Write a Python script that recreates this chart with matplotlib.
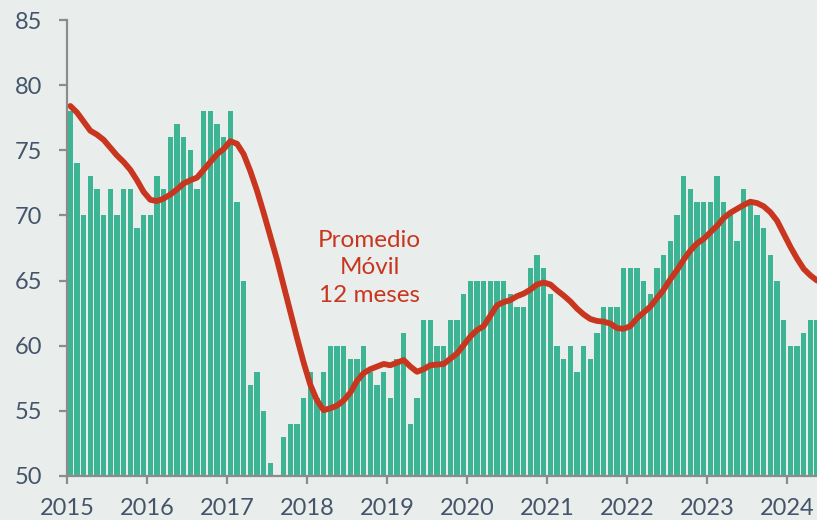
#!/usr/bin/env python3
#coding:utf-8

"""
  Indicador mensual 2015-2024 con promedio movil de 12 meses
"""

import numpy as np
import matplotlib
matplotlib.use('Agg')
import matplotlib.pyplot as plt

#----------------------------------------------------------------------
# datos (ene-2015 .. may-2024)
anios = ['2015', '2016', '2017', '2018', '2019', '2020', '2021', '2022', '2023', '2024']

indice = [
	78, 74, 70, 73, 72, 70, 72, 70, 72, 72, 69, 70,   # 2015
	70, 73, 72, 76, 77, 76, 75, 72, 78, 78, 77, 76,   # 2016
	78, 71, 65, 57, 58, 55, 51, 50, 53, 54, 54, 56,   # 2017
	58, 56, 58, 60, 60, 60, 59, 59, 60, 58, 57, 58,   # 2018
	56, 59, 61, 54, 56, 62, 62, 60, 60, 62, 62, 64,   # 2019
	65, 65, 65, 65, 65, 65, 64, 63, 63, 66, 67, 66,   # 2020
	64, 60, 59, 60, 58, 60, 59, 61, 63, 63, 63, 66,   # 2021
	66, 66, 65, 64, 66, 67, 68, 70, 73, 72, 71, 71,   # 2022
	71, 73, 71, 70, 68, 72, 71, 70, 69, 67, 65, 62,   # 2023
	60, 60, 61, 62, 62,                               # 2024
]

promedio_movil = [
	78.4, 77.9, 77.2, 76.5, 76.2, 75.8, 75.2, 74.6, 74.1, 73.5, 72.7, 71.8,
	71.2, 71.1, 71.3, 71.6, 72.0, 72.45, 72.7, 72.9, 73.5, 74.1, 74.7, 75.1,
	75.7, 75.5, 74.7, 73.4, 71.9, 70.2, 68.4, 66.6, 64.6, 62.6, 60.6, 58.7,
	57.0, 55.8, 55.05, 55.2, 55.4, 55.8, 56.4, 57.3, 57.9, 58.2, 58.4, 58.6,
	58.5, 58.7, 58.9, 58.4, 58.0, 58.2, 58.5, 58.55, 58.6, 59.0, 59.4, 60.05,
	60.7, 61.2, 61.5, 62.3, 63.1, 63.35, 63.5, 63.8, 64.0, 64.3, 64.7, 64.85,
	64.7, 64.25, 63.85, 63.4, 62.85, 62.4, 62.05, 61.9, 61.85, 61.7, 61.35, 61.3,
	61.5, 62.1, 62.55, 63.0, 63.65, 64.3, 65.1, 65.8, 66.6, 67.3, 67.85, 68.2,
	68.7, 69.2, 69.8, 70.2, 70.5, 70.8, 71.05, 70.95, 70.7, 70.25, 69.6, 68.6,
	67.6, 66.7, 65.9, 65.4, 65.0,
]

#----------------------------------------------------------------------
fondo = '#E9EDEB'
verde = '#3DB594'
rojo = '#C9361F'
texto = '#44546A'
gris = '#8C8C8C'

plt.rcParams['font.family'] = ['Lato', 'DejaVu Sans']

fig = plt.figure(figsize=(8.17, 5.20), dpi=100, facecolor=fondo)
ax = fig.add_axes([67/817, 44/520, 750/817, 456/520])
ax.set_facecolor(fondo)

meses = np.arange(len(indice))
ax.bar(meses, indice, width=0.78, color=verde, edgecolor='none', zorder=2)
ax.plot(meses, promedio_movil, color=rojo, lw=4.2, solid_capstyle='round',
	solid_joinstyle='round', zorder=3)

ax.text(44.9, 66.0, 'Promedio\nMóvil\n12 meses', color=rojo, fontsize=17.5,
	ha='center', va='center', linespacing=1.38, zorder=4)

#----------------------------------------------------------------------
ax.set_xlim(-0.5, 112.0)
ax.set_ylim(50, 85)
ax.set_yticks(np.arange(50, 86, 5))
ax.set_xticks(np.arange(len(anios)) * 12 - 0.5)
ax.set_xticklabels(anios)

for lado in ['top', 'right']:
	ax.spines[lado].set_visible(False)
for lado in ['left', 'bottom']:
	ax.spines[lado].set_color(gris)
	ax.spines[lado].set_linewidth(1.6)
	ax.spines[lado].set_zorder(5)

ax.tick_params(axis='y', direction='out', length=6, width=1.6, color=gris,
	labelsize=17, labelcolor=texto, pad=12)
ax.tick_params(axis='x', direction='out', length=5.5, width=1.6, color=gris,
	labelsize=17, labelcolor=texto, pad=10)

fig.savefig('out.png', dpi=100, facecolor=fondo)
